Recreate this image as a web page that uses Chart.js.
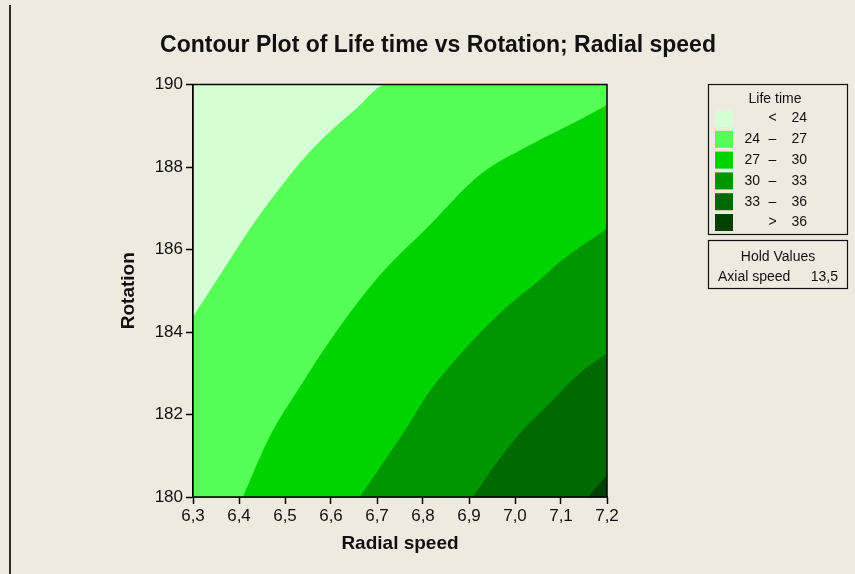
<!DOCTYPE html>
<html><head><meta charset="utf-8">
<script src="https://cdn.jsdelivr.net/npm/chart.js@4/dist/chart.umd.min.js"></script>
<style>html,body{margin:0;padding:0;background:#EEEAE0;overflow:hidden}canvas{display:block}</style>
</head><body><canvas id="c" width="855" height="574"></canvas>
<script>
// ---- text ----
const chartTitle = 'Contour Plot of Life time vs Rotation; Radial speed';
const xTitle = 'Radial speed';
const yTitle = 'Rotation';
const legendTitle = 'Life time';
const holdTitle = 'Hold Values';
const holdName = 'Axial speed';
const holdValue = '13,5';

// ---- ticks ----
const xTickValues = [6.3, 6.4, 6.5, 6.6, 6.7, 6.8, 6.9, 7.0, 7.1, 7.2];
const xTickLabels = ['6,3', '6,4', '6,5', '6,6', '6,7', '6,8', '6,9', '7,0', '7,1', '7,2'];
const yTickValues = [180, 182, 184, 186, 188, 190];

// ---- contour levels (legend) ----
const levelLow  = ['',   '24', '27', '30', '33', ''];
const levelSym  = ['<',  '–',  '–',  '–',  '–',  '>'];
const levelHigh = ['24', '27', '30', '33', '36', '36'];
const levelColors = ['#D5FFD5', '#55FF55', '#00D400', '#009600', '#006A00', '#004000'];

// ---- contour boundaries (Radial speed, Rotation) ----
const bgX = [6.3, 7.2];
const bgY = [190, 190];
const b24X = [6.300, 6.366, 6.438, 6.504, 6.561, 6.656, 6.722, 7.200];
const b24Y = [184.36, 185.50, 186.72, 187.70, 188.45, 189.42, 190.00, 190.00];
const b27X = [6.409, 6.467, 6.533, 6.612, 6.707, 6.815, 6.924, 7.033, 7.141, 7.200];
const b27Y = [180.00, 181.46, 182.67, 184.01, 185.38, 186.59, 187.81, 188.53, 189.14, 189.50];
const b30X = [6.663, 6.728, 6.772, 6.808, 6.880, 6.967, 7.054, 7.098, 7.200];
const b30Y = [180.00, 181.06, 181.80, 182.45, 183.44, 184.45, 185.26, 185.70, 186.50];
const b33X = [6.909, 6.960, 7.011, 7.076, 7.141, 7.200];
const b33Y = [180.00, 180.82, 181.54, 182.27, 183.00, 183.48];
const b36X = [7.159, 7.200];
const b36Y = [180.00, 180.52];

const pts = (xs, ys) => xs.map((x, i) => ({x: x, y: ys[i]}));
const FONT = "'Liberation Sans', Arial, sans-serif";

function band(xs, ys, color) {
  return {
    data: pts(xs, ys), showLine: true, fill: 'start',
    backgroundColor: color, borderColor: color, borderWidth: 0.5,
    pointRadius: 0, cubicInterpolationMode: 'monotone'
  };
}

const decor = {
  id: 'decor',
  beforeDraw(chart) {
    const ctx = chart.ctx;
    ctx.save();
    ctx.fillStyle = '#2b2b2b';
    ctx.fillRect(9, 5, 2, 569);
    ctx.fillStyle = '#111';
    ctx.font = "bold 23px " + FONT;
    ctx.textAlign = 'center'; ctx.textBaseline = 'middle';
    ctx.fillText(chartTitle, 438, 46);
    ctx.restore();
  },
  afterDraw(chart) {
    const ctx = chart.ctx, a = chart.chartArea;
    ctx.save();
    ctx.strokeStyle = '#000'; ctx.lineWidth = 1.5;
    ctx.strokeRect(a.left, a.top, a.right - a.left, a.bottom - a.top);
    // legend box
    const lx = 708.5, lw = 139;
    ctx.lineWidth = 1.2; ctx.strokeStyle = '#111';
    ctx.strokeRect(lx, 84.5, lw, 150);
    ctx.strokeRect(lx, 240.5, lw, 48);
    ctx.fillStyle = '#111';
    ctx.font = "14px " + FONT;
    ctx.textBaseline = 'middle';
    ctx.textAlign = 'center';
    ctx.fillText(legendTitle, 775, 99);
    for (let i = 0; i < levelColors.length; i++) {
      const cy = 118.5 + i * 20.8;
      ctx.fillStyle = levelColors[i];
      ctx.fillRect(715, cy - 8.5, 18, 17);
      ctx.fillStyle = '#111';
      ctx.textAlign = 'right';
      if (levelLow[i]) ctx.fillText(levelLow[i], 760, cy);
      ctx.fillText(levelHigh[i], 807, cy);
      ctx.textAlign = 'center';
      ctx.fillText(levelSym[i], 772.5, cy);
    }
    ctx.textAlign = 'center';
    ctx.fillText(holdTitle, 778, 257);
    ctx.textAlign = 'left';
    ctx.fillText(holdName, 718, 277);
    ctx.textAlign = 'right';
    ctx.fillText(holdValue, 838, 277);
    ctx.restore();
  }
};

new Chart(document.getElementById('c'), {
  type: 'scatter',
  data: {
    datasets: [
      band(b36X, b36Y, levelColors[5]),
      band(b33X, b33Y, levelColors[4]),
      band(b30X, b30Y, levelColors[3]),
      band(b27X, b27Y, levelColors[2]),
      band(b24X, b24Y, levelColors[1]),
      band(bgX, bgY, levelColors[0])
    ]
  },
  options: {
    responsive: false, animation: false, devicePixelRatio: 1,
    layout: {padding: {left: 0, right: 248, top: 84.5, bottom: 0}},
    plugins: {legend: {display: false}, title: {display: false}, tooltip: {enabled: false}},
    scales: {
      x: {
        type: 'linear', min: 6.3, max: 7.2,
        afterBuildTicks: s => { s.ticks = xTickValues.map(v => ({value: v})); },
        afterFit: s => { s.height = 77; },
        ticks: {callback: (v, i) => xTickLabels[i], color: '#111', font: {family: FONT, size: 17}, padding: 2, maxRotation: 0, autoSkip: false},
        grid: {drawOnChartArea: false, drawTicks: true, tickLength: 7, color: '#000', tickWidth: 1.5},
        border: {color: '#000', width: 1.5},
        title: {display: true, text: xTitle, color: '#111', font: {family: FONT, size: 19, weight: 'bold'}, padding: {top: 4, bottom: 19}}
      },
      y: {
        type: 'linear', min: 180, max: 190,
        afterBuildTicks: s => { s.ticks = yTickValues.map(v => ({value: v})); },
        afterFit: s => { s.width = 193; },
        ticks: {color: '#111', font: {family: FONT, size: 17}, padding: 3},
        grid: {drawOnChartArea: false, drawTicks: true, tickLength: 7, color: '#000', tickWidth: 1.5},
        border: {color: '#000', width: 1.5},
        title: {display: true, text: yTitle, color: '#111', font: {family: FONT, size: 19, weight: 'bold'}, padding: {top: 117, bottom: 4}}
      }
    }
  },
  plugins: [decor]
});
</script>
</body></html>
